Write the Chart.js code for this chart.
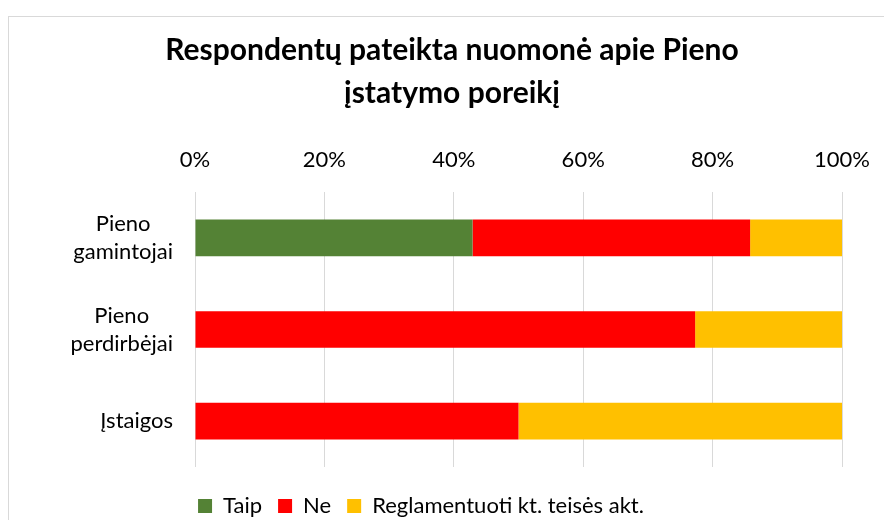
<!DOCTYPE html>
<html>
<head>
<meta charset="utf-8">
<script src="https://cdn.jsdelivr.net/npm/chart.js@4.4.0/dist/chart.umd.min.js"></script>
<style>
  html, body { margin: 0; padding: 0; background: #ffffff; }
  body { width: 884px; height: 520px; overflow: hidden; position: relative; }
  #frame { position: absolute; left: 8px; top: 16px; width: 1000px; height: 1000px; border: 1px solid #d9d9d9; box-sizing: border-box; }
  #wrap { position: absolute; left: 0; top: 0; width: 884px; height: 527px; }
  #title { position: absolute; left: 102px; top: 27px; width: 700px; text-align: center;
           font-family: Lato, "Open Sans", sans-serif; font-weight: bold; font-size: 30px; line-height: 43px; color: #000; }
</style>
</head>
<body>
<div id="frame"></div>
<div id="wrap"><canvas id="c"></canvas></div>
<div id="title">Respondentų pateikta nuomonė apie Pieno<br>įstatymo poreikį</div>
<script>
// ---- data ----
const categories = [['Pieno', 'gamintojai'], ['Pieno', 'perdirbėjai'], 'Įstaigos'];
const seriesNames = ['Taip', 'Ne', 'Reglamentuoti kt. teisės akt.'];
const taipValues = [42.9, 0, 0];
const neValues = [42.9, 77.3, 50];
const reglamentuotiValues = [14.2, 22.7, 50];
const tickValues = [0, 20, 40, 60, 80, 100];
const tickLabels = ['0%', '20%', '40%', '60%', '80%', '100%'];

const seriesColors = ['#548235', '#FF0000', '#FFC000'];
const seriesData = [taipValues, neValues, reglamentuotiValues];

const FONT = 'Lato, "Open Sans", sans-serif';
const Y_PAD = 22;

// right-align each category label block, centring its lines inside the block (Excel style)
const labelBlockAlign = {
  id: 'labelBlockAlign',
  beforeDraw(chart) {
    const s = chart.scales.y;
    if (!s || !s.getLabelItems) return;
    const items = s.getLabelItems(chart.chartArea);
    const ctx = chart.ctx;
    ctx.save();
    items.forEach(it => {
      ctx.font = it.font.string;
      const lines = Array.isArray(it.label) ? it.label : [it.label];
      const w = Math.max(...lines.map(l => ctx.measureText(String(l)).width));
      it.options.textAlign = 'center';
      it.options.translation[0] = s.right - Y_PAD - w / 2;
    });
    ctx.restore();
  }
};

new Chart(document.getElementById('c'), {
  type: 'bar',
  data: {
    labels: categories,
    datasets: seriesNames.map((name, i) => ({
      label: name,
      data: seriesData[i],
      backgroundColor: seriesColors[i],
      borderWidth: 0,
      barPercentage: 0.8,
      categoryPercentage: 0.5
    }))
  },
  plugins: [labelBlockAlign],
  options: {
    indexAxis: 'y',
    responsive: true,
    maintainAspectRatio: false,
    animation: false,
    layout: { padding: { top: 146, left: 0, right: 42, bottom: 0 } },
    scales: {
      x: {
        position: 'top',
        stacked: true,
        min: 0,
        max: 100,
        afterBuildTicks: (s) => { s.ticks = tickValues.map(v => ({ value: v })); },
        afterFit: (s) => { s.height = 46; s.paddingLeft = 0; s.paddingRight = 0; },
        ticks: {
          padding: 19,
          color: '#000',
          font: { family: FONT, size: 22, lineHeight: 1.2 },
          callback: (v, i) => tickLabels[i]
        },
        grid: { color: '#d9d9d9', lineWidth: 1, drawTicks: false },
        border: { display: false }
      },
      y: {
        stacked: true,
        afterFit: (s) => { s.width = 195; s.paddingTop = 0; s.paddingBottom = 0; },
        ticks: {
          padding: Y_PAD,
          crossAlign: 'center',
          color: '#000',
          font: { family: FONT, size: 22, lineHeight: 1.27 }
        },
        grid: { display: false, drawTicks: false },
        border: { display: false }
      }
    },
    plugins: {
      title: { display: false },
      tooltip: { enabled: false },
      legend: {
        display: true,
        position: 'bottom',
        align: 'center',
        title: { display: true, text: '', font: { size: 5, lineHeight: 1.2 }, padding: { top: 6, bottom: 0 } },
        labels: {
          boxWidth: 14,
          boxHeight: 14,
          padding: 16,
          color: '#000',
          font: { family: FONT, size: 22 }
        }
      }
    }
  }
});
</script>
</body>
</html>
